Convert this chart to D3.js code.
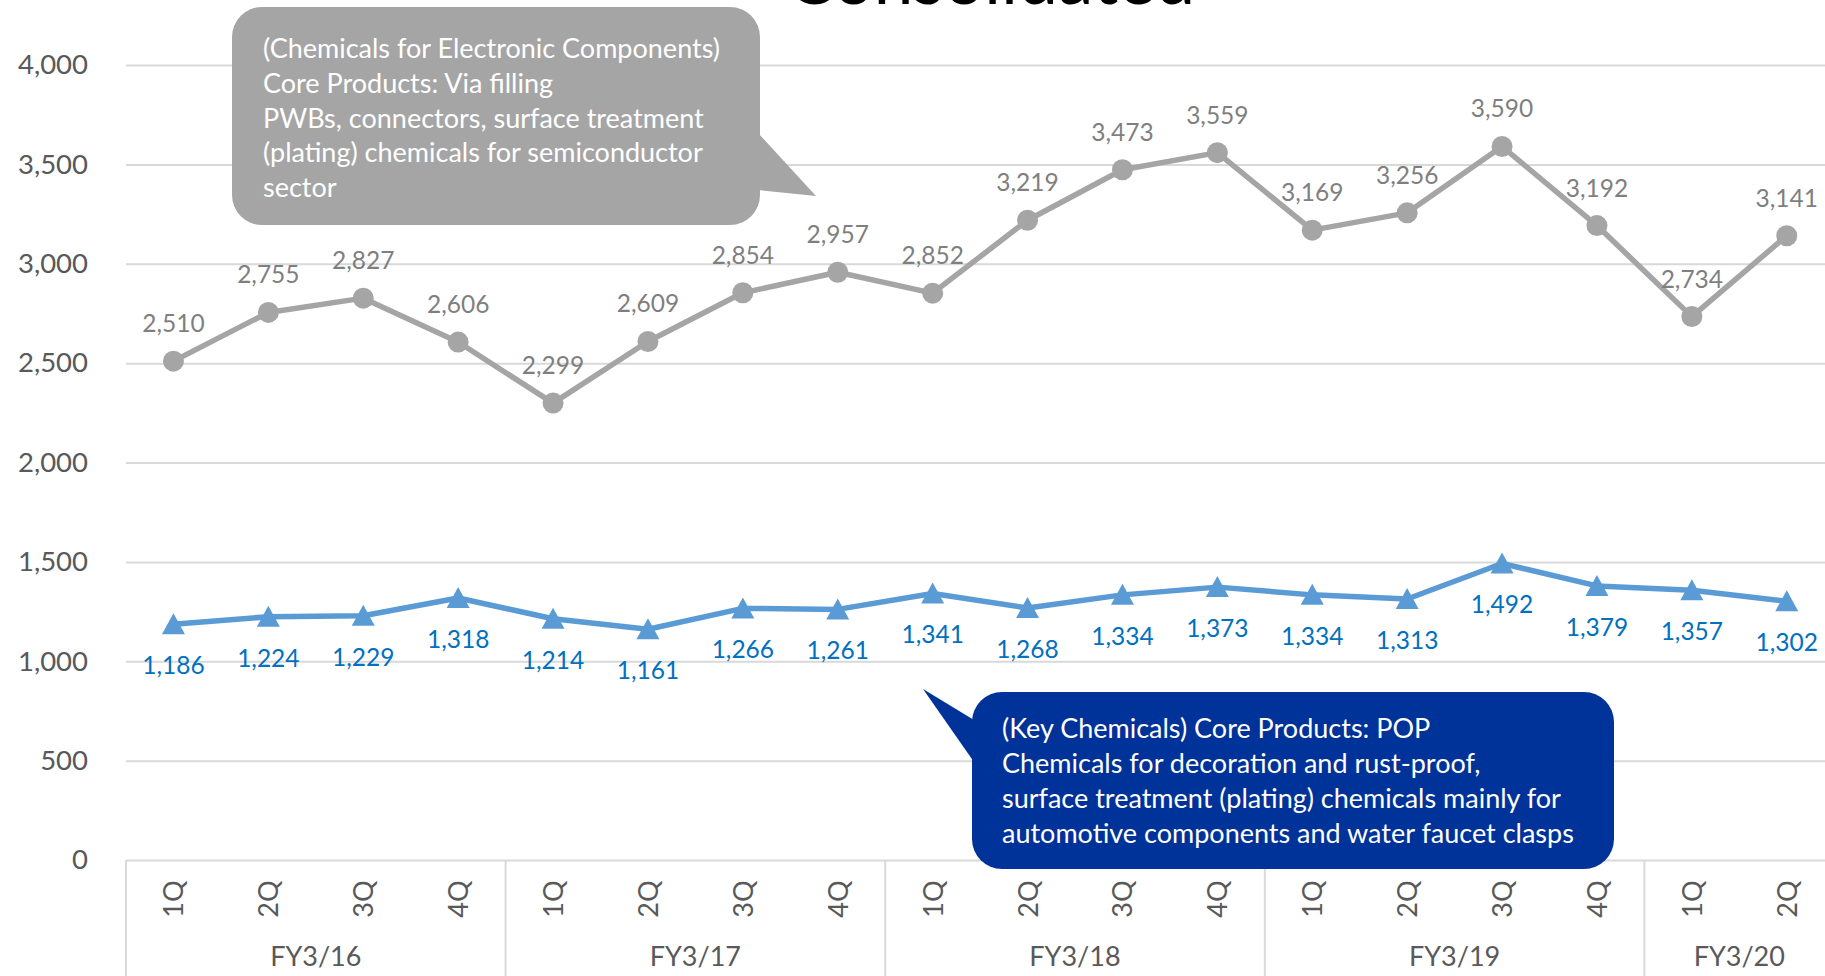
<!DOCTYPE html>
<html>
<head>
<meta charset="utf-8">
<script src="https://cdn.jsdelivr.net/npm/d3@7"></script>
<style>
  html, body { margin: 0; padding: 0; background: #ffffff; overflow: hidden; }
  svg { display: block; font-family: Lato, "Open Sans", sans-serif; }
</style>
</head>
<body>
<svg id="chart" width="1825" height="976"></svg>
<script>
// Quarterly sales by segment (million yen)
const fiscalYears = ["FY3/16", "FY3/17", "FY3/18", "FY3/19", "FY3/20"];
const quartersPerYear = [4, 4, 4, 4, 2];
const quarterNames = ["1Q", "2Q", "3Q", "4Q"];
const electronicSales = [2510, 2755, 2827, 2606, 2299, 2609, 2854, 2957, 2852, 3219, 3473, 3559, 3169, 3256, 3590, 3192, 2734, 3141];
const keyChemicalSales = [1186, 1224, 1229, 1318, 1214, 1161, 1266, 1261, 1341, 1268, 1334, 1373, 1334, 1313, 1492, 1379, 1357, 1302];
const yTicks = [0, 500, 1000, 1500, 2000, 2500, 3000, 3500, 4000];

const electronicNote = [
  "(Chemicals for Electronic Components)",
  "Core Products: Via filling",
  "PWBs, connectors, surface treatment",
  "(plating) chemicals for semiconductor",
  "sector"
];
const keyChemicalNote = [
  "(Key Chemicals) Core Products: POP",
  "Chemicals for decoration and rust-proof,",
  "surface treatment (plating) chemicals mainly for",
  "automotive components and water faucet clasps"
];

// category list: one entry per quarter, tagged with its fiscal year
const categories = [];
fiscalYears.forEach((fy, i) => {
  for (let q = 0; q < quartersPerYear[i]; q++) categories.push({ fy, q: quarterNames[q], key: fy + "-" + quarterNames[q] });
});

const svg = d3.select("#chart");
const plotLeft = 126, bandW = 94.9;
const plotRight = plotLeft + bandW * categories.length;
const yTop = 65, yBottom = 860;

const x = d3.scaleBand().domain(categories.map(d => d.key)).range([plotLeft, plotRight]).paddingInner(0).paddingOuter(0);
const y = d3.scaleLinear().domain([0, 4000]).range([yBottom, yTop]);
const cx = i => x(categories[i].key) + x.bandwidth() / 2;

const grey = "#a5a5a5", greyText = "#7f7f7f";
const blue = "#5b9bd5", blueText = "#0070c0";
const axisText = "#595959", gridColor = "#d9d9d9";

// title (sits partly above the visible area)
svg.append("text")
  .attr("x", 991).attr("y", 4)
  .attr("text-anchor", "middle")
  .attr("font-size", 71)
  .attr("fill", "#000000")
  .text("Consolidated");

// value axis with gridlines
const yAxis = d3.axisLeft(y)
  .tickValues(yTicks)
  .tickFormat(d3.format(","))
  .tickSize(-(plotRight - plotLeft))
  .tickPadding(38);
const yg = svg.append("g").attr("transform", `translate(${plotLeft},0)`).call(yAxis);
yg.select(".domain").remove();
yg.selectAll(".tick line").attr("stroke", gridColor).attr("stroke-width", 2);
yg.selectAll(".tick text")
  .attr("fill", axisText)
  .attr("font-size", 27.5)
  .attr("font-family", "Lato, sans-serif");

// category axis: quarter labels (rotated) and fiscal-year groups
const catG = svg.append("g");
catG.selectAll("text.q")
  .data(categories)
  .join("text")
  .attr("class", "q")
  .attr("transform", (d, i) => `translate(${cx(i) + 10},899) rotate(-90)`)
  .attr("text-anchor", "middle")
  .attr("font-size", 27)
  .attr("fill", axisText)
  .text(d => d.q);

let start = 0;
const groups = fiscalYears.map((fy, i) => {
  const g = { fy, from: start, to: start + quartersPerYear[i] };
  start += quartersPerYear[i];
  return g;
});
const boundaries = [0, ...groups.map(g => g.to)];
catG.selectAll("line.sep")
  .data(boundaries)
  .join("line")
  .attr("class", "sep")
  .attr("x1", b => plotLeft + b * bandW).attr("x2", b => plotLeft + b * bandW)
  .attr("y1", yBottom).attr("y2", 976)
  .attr("stroke", gridColor).attr("stroke-width", 2);
catG.selectAll("text.fy")
  .data(groups)
  .join("text")
  .attr("class", "fy")
  .attr("x", g => (plotLeft + g.from * bandW + plotLeft + g.to * bandW) / 2)
  .attr("y", 966)
  .attr("text-anchor", "middle")
  .attr("font-size", 27)
  .attr("fill", axisText)
  .text(g => g.fy);

// series lines
const line = d3.line().x((d, i) => cx(i)).y(d => y(d));
svg.append("path").datum(electronicSales)
  .attr("d", line).attr("fill", "none")
  .attr("stroke", grey).attr("stroke-width", 5.5).attr("stroke-linejoin", "round");
svg.append("path").datum(keyChemicalSales)
  .attr("d", line).attr("fill", "none")
  .attr("stroke", blue).attr("stroke-width", 5.5).attr("stroke-linejoin", "round");

// markers
svg.append("g").selectAll("circle")
  .data(electronicSales)
  .join("circle")
  .attr("cx", (d, i) => cx(i)).attr("cy", d => y(d))
  .attr("r", 10.5).attr("fill", grey);
svg.append("g").selectAll("path")
  .data(keyChemicalSales)
  .join("path")
  .attr("transform", (d, i) => `translate(${cx(i)},${y(d)})`)
  .attr("d", "M0,-11L11.5,10L-11.5,10Z")
  .attr("fill", blue);

// data labels
const fmt = d3.format(",");
svg.append("g").selectAll("text")
  .data(electronicSales)
  .join("text")
  .attr("x", (d, i) => cx(i)).attr("y", d => y(d) - 29)
  .attr("text-anchor", "middle")
  .attr("font-size", 24.5)
  .attr("fill", greyText)
  .text(d => fmt(d));
svg.append("g").selectAll("text")
  .data(keyChemicalSales)
  .join("text")
  .attr("x", (d, i) => cx(i)).attr("y", d => y(d) + 50)
  .attr("text-anchor", "middle")
  .attr("font-size", 24.5)
  .attr("fill", blueText)
  .text(d => fmt(d));

// callout boxes
function callout(box, pointer, fill, lines, textX, firstBaseline, lineGap) {
  const g = svg.append("g");
  g.append("rect")
    .attr("x", box.x).attr("y", box.y)
    .attr("width", box.w).attr("height", box.h)
    .attr("rx", 30).attr("ry", 30)
    .attr("fill", fill);
  g.append("polygon")
    .attr("points", pointer.map(p => p.join(",")).join(" "))
    .attr("fill", fill);
  g.selectAll("text")
    .data(lines)
    .join("text")
    .attr("x", textX)
    .attr("y", (d, i) => firstBaseline + i * lineGap)
    .attr("font-size", 27)
    .attr("fill", "#ffffff")
    .text(d => d);
}

callout({ x: 232, y: 7, w: 528, h: 218 },
  [[758, 133], [816, 196], [758, 190]],
  grey, electronicNote, 263, 58, 34.8);

callout({ x: 972, y: 692, w: 642, h: 177 },
  [[974, 720], [923, 689], [974, 762]],
  "#003399", keyChemicalNote, 1002, 738, 35);
</script>
</body>
</html>
